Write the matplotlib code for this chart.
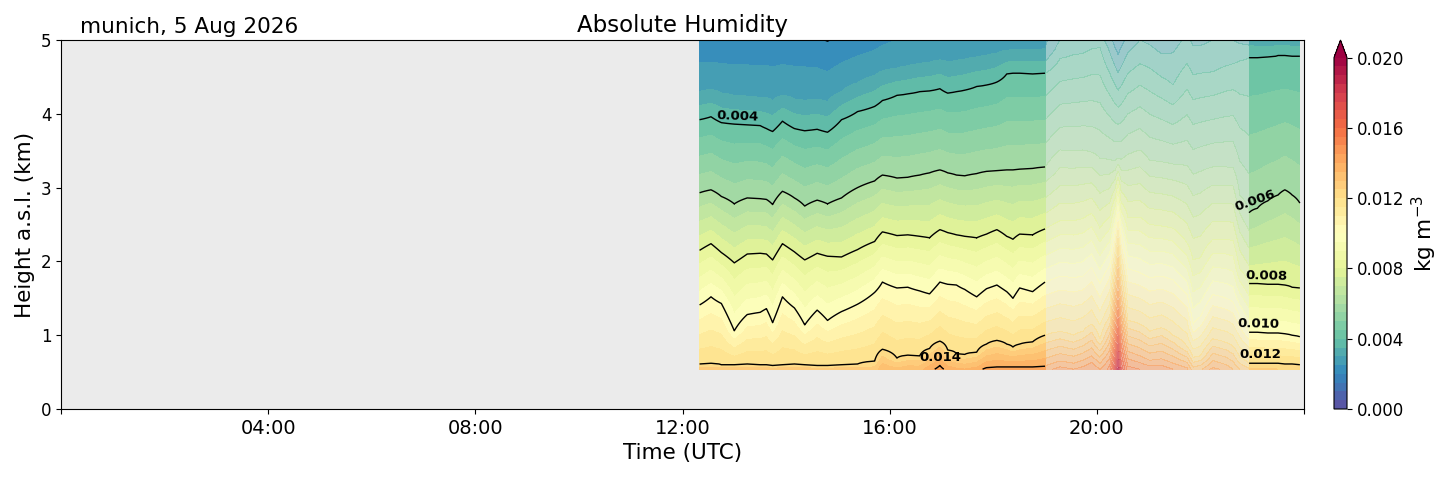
import numpy as np
import matplotlib
matplotlib.use("Agg")
import matplotlib.pyplot as plt
from matplotlib.transforms import ScaledTranslation

nan = np.nan

t_nodes = np.array([
    12.33, 12.55, 12.75, 13.0, 13.25, 13.5, 13.62, 13.74, 13.93, 14.16, 14.36,
    14.6, 14.8, 15.07, 15.38, 15.71, 15.86, 16.14, 16.35, 16.58, 16.77, 16.97,
    17.12, 17.29, 17.45, 17.68, 17.87, 18.07, 18.26, 18.38, 18.51, 18.76, 19.0,
    # flagged period
    19.29, 19.55, 19.73, 19.9, 20.06, 20.25, 20.35, 20.41, 20.47, 20.6, 20.83,
    21.02, 21.25, 21.47, 21.74, 21.86, 22.0, 22.24, 22.5, 22.63, 22.76, 22.94,
    # last hour
    23.1, 23.3, 23.5, 23.63, 23.77, 23.92])

flag_start = 19.0
flag_end = 22.94

# height (km) of each humidity isoline at the time nodes
h_003 = [4.30, 4.33, 4.28, 4.25, 4.24, 4.22, 4.22, 4.18, 4.25, 4.20, 4.18,
         4.20, 4.16, 4.30, 4.42, 4.52, 4.58, 4.62, 4.65, 4.68, 4.70, 4.73,
         4.70, 4.72, 4.74, 4.77, 4.79, 4.82, 4.86, 4.87, 4.87, 4.87, 4.88,
         nan, nan, nan, nan, nan, nan, 4.90, 4.80, 4.90, nan, nan,
         nan, nan, nan, nan, nan, nan, nan, nan, nan, nan, nan,
         nan, nan, nan, nan, nan, nan]
h_004 = [3.92, 3.96, 3.88, 3.86, 3.85, 3.84, 3.80, 3.76, 3.90, 3.80, 3.77,
         3.79, 3.75, 3.92, 4.03, 4.10, 4.18, 4.25, 4.27, 4.30, 4.31, 4.34,
         4.28, 4.30, 4.32, 4.37, 4.39, 4.43, 4.54, 4.55, 4.55, 4.54, 4.55,
         4.75, 4.80, 4.82, 4.88, 4.90, 4.55, 4.40, 4.32, 4.38, 4.55, 4.68,
         4.62, 4.50, 4.39, 4.68, 4.53, 4.55, 4.57, 4.65, 4.68, 4.72, 4.76,
         4.76, 4.77, 4.79, 4.79, 4.78, 4.78]
h_006 = [2.93, 2.97, 2.88, 2.78, 2.86, 2.85, 2.84, 2.77, 2.95, 2.86, 2.75,
         2.83, 2.78, 2.86, 3.00, 3.09, 3.17, 3.13, 3.14, 3.17, 3.20, 3.24,
         3.20, 3.17, 3.16, 3.19, 3.22, 3.23, 3.24, 3.24, 3.25, 3.26, 3.28,
         3.51, 3.50, 3.51, 3.48, 3.40, 3.38, 3.36, 3.40, 3.38, 3.45, 3.51,
         3.37, 3.35, 3.32, 3.30, 3.18, 3.22, 3.28, 3.28, 3.27, 2.90, 2.66,
         2.72, 2.82, 2.90, 2.97, 2.90, 2.79]
h_008 = [2.15, 2.24, 2.12, 1.98, 2.10, 2.11, 2.10, 2.02, 2.24, 2.13, 2.02,
         2.11, 2.07, 2.06, 2.16, 2.27, 2.40, 2.35, 2.36, 2.34, 2.32, 2.43,
         2.39, 2.36, 2.34, 2.32, 2.37, 2.43, 2.34, 2.30, 2.37, 2.36, 2.44,
         2.55, 2.55, 2.58, 2.65, 2.45, 2.60, 2.85, 3.05, 2.80, 2.60, 2.60,
         2.50, 2.48, 2.45, 2.25, 2.02, 2.05, 2.30, 2.30, 2.28, 1.90, 1.70,
         1.70, 1.69, 1.69, 1.68, 1.65, 1.64]
h_010 = [1.41, 1.52, 1.43, 1.06, 1.28, 1.31, 1.36, 1.17, 1.52, 1.37, 1.14,
         1.34, 1.20, 1.32, 1.42, 1.58, 1.72, 1.64, 1.65, 1.60, 1.56, 1.72,
         1.69, 1.68, 1.62, 1.52, 1.63, 1.68, 1.59, 1.50, 1.64, 1.59, 1.72,
         1.80, 1.78, 1.80, 1.92, 1.70, 1.95, 2.40, 2.65, 2.35, 1.90, 1.85,
         1.78, 1.80, 1.75, 1.55, 1.15, 1.25, 1.55, 1.50, 1.45, 1.25, 1.04,
         1.04, 1.03, 1.03, 1.02, 1.00, 0.98]
h_012 = [0.61, 0.62, 0.60, 0.60, 0.61, 0.60, 0.60, 0.59, 0.60, 0.61, 0.60,
         0.59, 0.59, 0.60, 0.61, 0.65, 0.81, 0.69, 0.73, 0.72, 0.82, 0.92,
         0.80, 0.75, 0.74, 0.77, 0.88, 0.93, 0.88, 0.84, 0.88, 0.91, 1.00,
         1.05, 1.00, 1.05, 1.15, 0.95, 1.25, 1.85, 2.20, 1.80, 1.20, 1.15,
         1.05, 1.10, 1.00, 0.85, 0.70, 0.72, 0.95, 0.90, 0.85, 0.70, 0.62,
         0.62, 0.62, 0.62, 0.61, 0.61, 0.60]
h_014 = [nan, nan, nan, nan, nan, nan, nan, nan, nan, nan, nan,
         nan, nan, nan, nan, nan, nan, nan, nan, nan, nan, 0.59,
         nan, nan, nan, nan, 0.56, 0.57, 0.57, 0.57, 0.57, 0.57, 0.58,
         0.65, 0.62, 0.66, 0.72, 0.62, 0.80, 1.30, 1.60, 1.25, 0.78, 0.72,
         0.66, 0.68, 0.62, 0.56, nan, nan, 0.56, nan, nan, nan, nan,
         nan, nan, nan, nan, nan, nan]
h_016 = [nan] * 39 + [0.80, 1.10, 0.75] + [nan] * 19

# humidity at the lowest gate and at 5 km (kg m-3)
q_surf = [0.0127, 0.0127, 0.0127, 0.0127, 0.0127, 0.0127, 0.0127, 0.0127,
          0.0127, 0.0127, 0.0127, 0.0127, 0.0127, 0.0127, 0.0127, 0.0127,
          0.0134, 0.0131, 0.0133, 0.0133, 0.0138, 0.0142, 0.0138, 0.0136,
          0.0135, 0.0137, 0.0142, 0.0143, 0.0143, 0.0143, 0.0143, 0.0143, 0.0143,
          0.0147, 0.0145, 0.0147, 0.0150, 0.0145, 0.0152, 0.0172, 0.0186,
          0.0170, 0.0152, 0.0150, 0.0148, 0.0148, 0.0145, 0.0141, 0.0132,
          0.0134, 0.0142, 0.0138, 0.0135, 0.0130, 0.0126,
          0.0126, 0.0126, 0.0125, 0.0125, 0.0124, 0.0124]
q_top = [0.0021, 0.0021, 0.0021, 0.0021, 0.0021, 0.0021, 0.0021, 0.0021,
         0.0021, 0.0021, 0.0021, 0.00205, 0.00198, 0.0021, 0.0022, 0.0023,
         0.0024, 0.0025, 0.0025, 0.0026, 0.0026, 0.0027, 0.0027, 0.0027,
         0.0027, 0.0028, 0.0028, 0.0028, 0.0029, 0.0029, 0.0029, 0.0029, 0.0029,
         0.0035, 0.0036, 0.0037, 0.0038, 0.0037, 0.0032, 0.0028, 0.0027,
         0.0028, 0.0032, 0.0035, 0.0034, 0.0032, 0.0033, 0.0036, 0.0034,
         0.0034, 0.0035, 0.0035, 0.0035, 0.0034, 0.0033,
         0.0032, 0.0032, 0.0032, 0.0032, 0.0032, 0.0032]

iso_levels = [0.016, 0.014, 0.012, 0.010, 0.008, 0.006, 0.004, 0.003]
iso_heights = np.array([h_016, h_014, h_012, h_010, h_008, h_006, h_004, h_003])

z_bottom, z_top = 0.54, 5.0
heights = np.linspace(z_bottom, z_top, 447)

# build the humidity profile of every column from its isolines
hum = np.zeros((len(heights), len(t_nodes)))
for i in range(len(t_nodes)):
    hs = [z_bottom]
    qs = [q_surf[i]]
    for lev, h in zip(iso_levels, iso_heights[:, i]):
        if not np.isnan(h):
            hs.append(h)
            qs.append(lev)
    hs.append(z_top)
    qs.append(q_top[i])
    hum[:, i] = np.interp(heights, hs, qs)

flagged_cols = (t_nodes > flag_start) & (t_nodes < flag_end)
outside_cols = (t_nodes < flag_start) | (t_nodes > flag_end)
hum_good = np.ma.masked_array(hum, mask=np.tile(flagged_cols, (len(heights), 1)))
hum_flag = np.ma.masked_array(hum, mask=np.tile(outside_cols, (len(heights), 1)))

fill_levels = np.arange(0, 0.02001, 0.0005)
line_levels = np.arange(0.002, 0.02001, 0.002)

fig = plt.figure(figsize=(14.54, 4.78), dpi=100)
ax = fig.add_axes([61 / 1454, 69 / 478, 1243 / 1454, 369 / 478])
ax.set_facecolor('#ebebeb')

cf = ax.contourf(t_nodes, heights, hum_good, levels=fill_levels,
                 cmap='Spectral_r', extend='max')
ax.contourf(t_nodes, heights, hum_flag, levels=fill_levels,
            cmap='Spectral_r', extend='max', alpha=0.52)
cs = ax.contour(t_nodes, heights, hum_good, levels=line_levels,
                colors='black', linewidths=1.0)

label_spots = [(13.05, 3.86), (16.97, 0.59), (23.1, 2.72),
               (23.28, 1.70), (23.12, 1.04), (23.16, 0.62)]
labels = ax.clabel(cs, fmt='%.3f', fontsize=9.5, inline=False, manual=label_spots)
for lbl in labels:
    lbl.set_fontweight('bold')
    rot = np.deg2rad(lbl.get_rotation())
    shift = ScaledTranslation(-np.sin(rot) * 6 / 72, np.cos(rot) * 6 / 72,
                              fig.dpi_scale_trans)
    lbl.set_transform(ax.transData + shift)

ax.set_xlim(0, 24)
ax.set_ylim(0, 5)
ax.set_xticks(np.arange(0, 25, 4))
ax.set_xticklabels(['', '04:00', '08:00', '12:00', '16:00', '20:00', ''])
ax.set_yticks(np.arange(0, 6, 1))
ax.tick_params(axis='x', labelsize=14)
ax.tick_params(axis='y', labelsize=12)
ax.set_xlabel('Time (UTC)', fontsize=15.5)
ax.set_ylabel('Height a.s.l. (km)', fontsize=15.5)
ax.set_title('Absolute Humidity', fontsize=16.5)
ax.text(0.015, 1.008, 'munich, 5 Aug 2026', transform=ax.transAxes,
        ha='left', va='bottom', fontsize=15.5)

cax = fig.add_axes([1334 / 1454, 69 / 478, 13 / 1454, 369 / 478])
cb = fig.colorbar(cf, cax=cax, ticks=np.arange(0, 0.02001, 0.004), format='%.3f')
cb.ax.tick_params(labelsize=12)
cb.set_label('kg m$^{-3}$', fontsize=15.5)

fig.savefig('out.png', dpi=100)
